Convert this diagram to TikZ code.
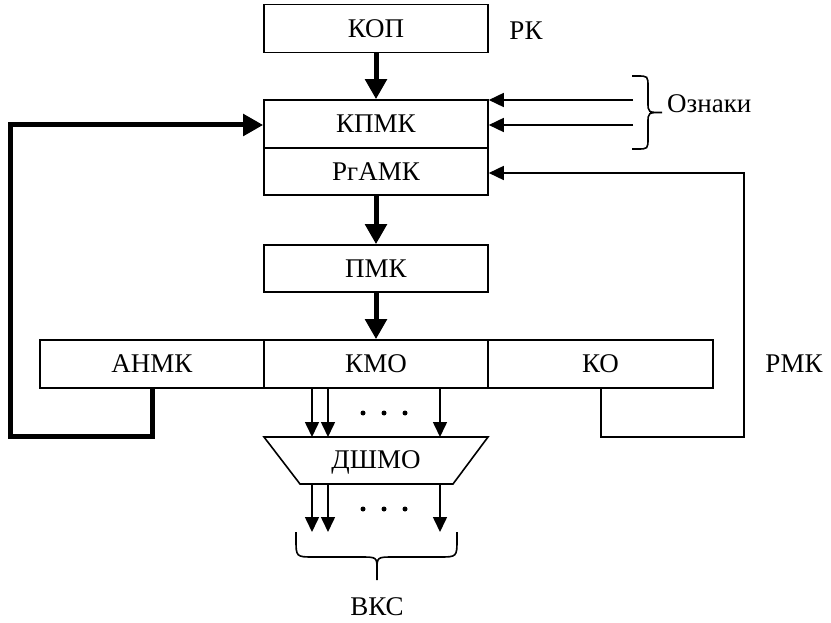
\documentclass[tikz,border=0pt]{standalone}
\usepackage{fontspec}
\setmainfont{Liberation Serif}
\usetikzlibrary{arrows.meta}
\begin{document}
\begin{tikzpicture}[x=1pt,y=-1pt,
  box/.style={draw,line width=1.6pt,minimum height=48pt,inner sep=0pt,font=\fontsize{27}{32}\selectfont},
  lbl/.style={inner sep=0pt,font=\fontsize{27}{32}\selectfont},
  thin/.style={line width=1.6pt,-{Triangle[length=15pt,width=14pt]}},
  thick/.style={line width=5pt,-{Triangle[length=20pt,width=21pt]}},
  plain/.style={line width=1.6pt},
  dotc/.style={circle,fill,inner sep=0pt,minimum size=5pt}]
\useasboundingbox (0,0) rectangle (831,623);
% boxes
\node[box,minimum width=224pt] (kop) at (376,28.5) {КОП};
\node[lbl] (rk) at (526,31) {РК};
\node[box,minimum width=224pt,minimum height=48pt] (kpmk) at (376,124) {КПМК};
\node[box,minimum width=224pt,minimum height=47pt] (pramk) at (376,171.5) {РгАМК};
\node[box,minimum width=224pt,minimum height=47pt] (pmk) at (376,268.5) {ПМК};
\node[box,minimum width=224pt] (anmk) at (152,364) {АНМК};
\node[box,minimum width=224pt] (kmo) at (376,364) {КМО};
\node[box,minimum width=225pt] (ko) at (600.5,364) {КО};
\node[lbl] (rmk) at (794,364) {РМК};
% trapezoid
\coordinate (t1) at (264,437);
\coordinate (t2) at (488,437);
\coordinate (t3) at (453,484);
\coordinate (t4) at (300,484);
\draw[plain,line join=miter] (t1) -- (t2) -- (t3) -- (t4) -- cycle;
\node[lbl] (dshmo) at (376,462) {ДШМО};
% thick arrows
\draw[thick] (kop.south) -- (kpmk.north);
\draw[thick] (pramk.south) -- (pmk.north);
\draw[thick] (pmk.south) -- (kmo.north);
% feedback from АНМК
\coordinate (fb1) at (152,436);
\coordinate (fb2) at (10,436);
\coordinate (fb3) at (10,125);
\draw[thick,line join=miter] (anmk.south) -- (fb1) -- (fb2) -- (fb3) -- (kpmk.west |- fb3);
% feedback from КО
\coordinate (ko1) at (601,437);
\coordinate (ko2) at (744,437);
\coordinate (ko3) at (744,173);
\draw[thin,line join=miter] (ko.south -| ko1) -- (ko1) -- (ko2) -- (ko3) -- (pramk.east |- ko3);
% inputs (Ознаки)
\coordinate (in1) at (633,100);
\coordinate (in2) at (633,125);
\draw[thin] (in1) -- (kpmk.east |- in1);
\draw[thin] (in2) -- (kpmk.east |- in2);
\coordinate (br1) at (632,76);
\coordinate (br2) at (632,149);
\draw[plain] (br1) -- (637,76) .. controls (648,76) .. (648,87) -- (648,102)
  .. controls (648,112.5) .. (662,112.5) .. controls (648,112.5) .. (648,123)
  -- (648,138) .. controls (648,149) .. (637,149) -- (br2);
\node[lbl,anchor=west] (ozn) at (667,104) {Ознаки};
% КМО -> ДШМО
\foreach \x/\n in {312/a,328/b,440/c}{
  \coordinate (u\n) at (\x,388);
  \coordinate (v\n) at (\x,437);
  \draw[thin] (u\n) -- (v\n);
  \coordinate (w\n) at (\x,484);
  \coordinate (z\n) at (\x,532);
  \draw[thin] (w\n) -- (z\n);
}
\foreach \x/\n in {363/a,384/b,405/c}{
  \node[dotc] (d1\n) at (\x,413) {};
  \node[dotc] (d2\n) at (\x,509) {};
}
% bottom brace
\coordinate (bb1) at (296,532);
\coordinate (bb2) at (457,532);
\draw[plain] (bb1) -- (296,539) .. controls (296,557) .. (314,557) -- (360,557)
  .. controls (377,557) .. (377,570) -- (377,580) -- (377,570)
  .. controls (377,557) .. (394,557) -- (439,557) .. controls (457,557) .. (457,539) -- (bb2);
\node[lbl] (vks) at (377,607) {ВКС};
\end{tikzpicture}
\end{document}
